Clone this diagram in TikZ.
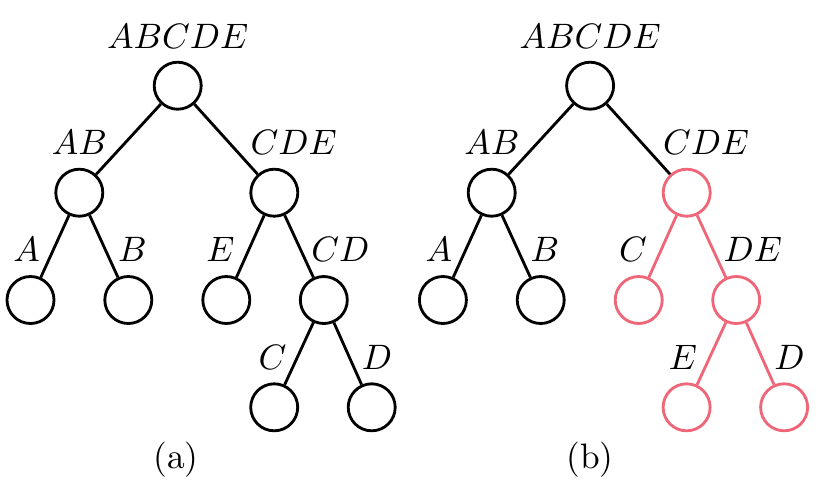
\documentclass[tikz,border=0pt]{standalone}
\usepackage{xcolor}
\definecolor{tolred}{HTML}{EE6677}
\begin{document}
\begin{tikzpicture}[x=0.283pt,y=-0.283pt,
  vtx/.style={circle,draw,thick,minimum size=13.3pt,inner sep=0pt},
  pvtx/.style={vtx,draw=tolred},
  lbl/.style={anchor=base,inner sep=0pt},
  edge/.style={thick},
  pedge/.style={thick,draw=tolred}]
\useasboundingbox (0,0) rectangle (839,503);
% ---------- tree (a)
\node[vtx] (ar) at (177.7,85.7) {};
\node[vtx] (aab) at (79.3,192.7) {};
\node[vtx] (acde) at (274.3,192.7) {};
\node[vtx] (aa) at (30.5,300) {};
\node[vtx] (ab) at (128.3,300) {};
\node[vtx] (ae) at (226.3,300) {};
\node[vtx] (acd) at (323.8,300) {};
\node[vtx] (ac) at (274.2,407.3) {};
\node[vtx] (ad) at (371.7,407.3) {};
\draw[edge] (ar) -- (aab);
\draw[edge] (ar) -- (acde);
\draw[edge] (aab) -- (aa);
\draw[edge] (aab) -- (ab);
\draw[edge] (acde) -- (ae);
\draw[edge] (acde) -- (acd);
\draw[edge] (acd) -- (ac);
\draw[edge] (acd) -- (ad);
\node[lbl] (lar) at (177.7,48.3) {$ABCDE$};
\node[lbl] (laab) at (79.5,154) {$AB$};
\node[lbl] (lacde) at (293.7,154) {$CDE$};
\node[lbl] (laa) at (26.5,261.7) {$A$};
\node[lbl] (lab) at (132.5,261.7) {$B$};
\node[lbl] (lae) at (220.5,261.7) {$E$};
\node[lbl] (lacd) at (340.5,261.7) {$CD$};
\node[lbl] (lac) at (272.5,369.3) {$C$};
\node[lbl] (lad) at (377,369.3) {$D$};
\node[lbl] (capa) at (176,468.3) {(a)};
% ---------- tree (b)
\begin{scope}[xshift=412.4*0.283pt]
\node[vtx] (br) at (177.7,85.7) {};
\node[vtx] (bab) at (79.3,192.7) {};
\node[pvtx] (bcde) at (274.3,192.7) {};
\node[vtx] (ba) at (30.5,300) {};
\node[vtx] (bb) at (128.3,300) {};
\node[pvtx] (bc) at (226.3,300) {};
\node[pvtx] (bde) at (323.8,300) {};
\node[pvtx] (be) at (274.2,407.3) {};
\node[pvtx] (bd) at (371.7,407.3) {};
\draw[edge] (br) -- (bab);
\draw[edge] (br) -- (bcde);
\draw[edge] (bab) -- (ba);
\draw[edge] (bab) -- (bb);
\draw[pedge] (bcde) -- (bc);
\draw[pedge] (bcde) -- (bde);
\draw[pedge] (bde) -- (be);
\draw[pedge] (bde) -- (bd);
\node[lbl] (lbr) at (177.7,48.3) {$ABCDE$};
\node[lbl] (lbab) at (79.5,154) {$AB$};
\node[lbl] (lbcde) at (293.7,154) {$CDE$};
\node[lbl] (lba) at (26.5,261.7) {$A$};
\node[lbl] (lbb) at (132.5,261.7) {$B$};
\node[lbl] (lbc) at (220.5,261.7) {$C$};
\node[lbl] (lbde) at (340.5,261.7) {$DE$};
\node[lbl] (lbe) at (270.5,369.3) {$E$};
\node[lbl] (lbd) at (377,369.3) {$D$};
\node[lbl] (capb) at (177.6,468.3) {(b)};
\end{scope}
\end{tikzpicture}
\end{document}
